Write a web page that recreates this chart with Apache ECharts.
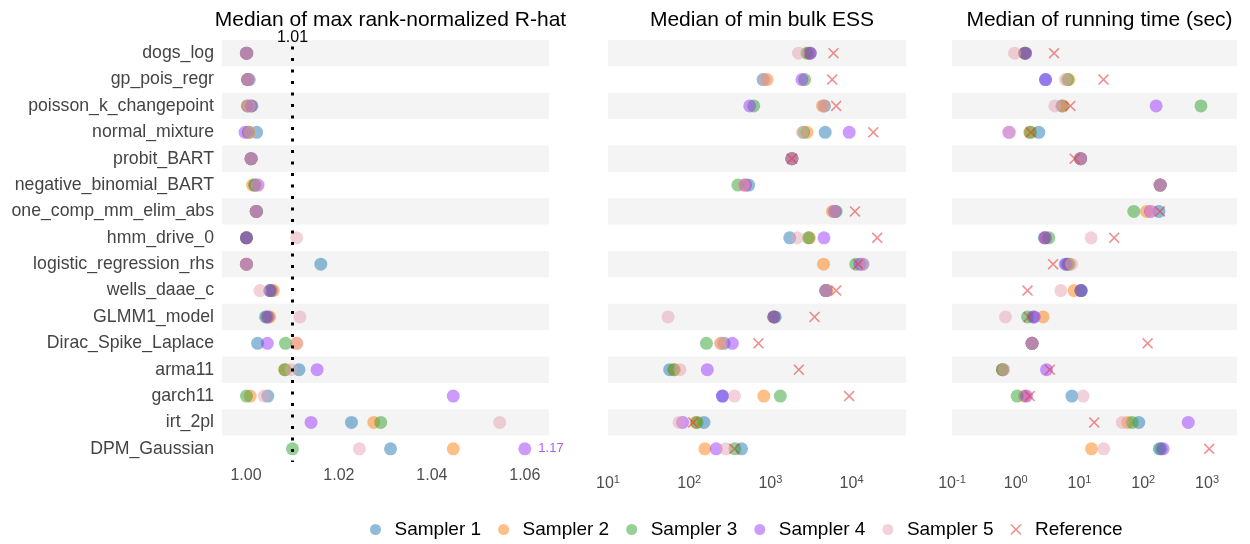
<!DOCTYPE html>
<html>
<head>
<meta charset="utf-8">
<script src="https://cdn.jsdelivr.net/npm/echarts@6/dist/echarts.min.js"></script>
<style>
  html, body { margin: 0; padding: 0; background: #fff; }
  #chart { width: 1250px; height: 544px; }
</style>
</head>
<body>
<div id="chart"></div>
<script>
const models = [
  "dogs_log", "gp_pois_regr", "poisson_k_changepoint", "normal_mixture",
  "probit_BART", "negative_binomial_BART", "one_comp_mm_elim_abs", "hmm_drive_0",
  "logistic_regression_rhs", "wells_daae_c", "GLMM1_model", "Dirac_Spike_Laplace",
  "arma11", "garch11", "irt_2pl", "DPM_Gaussian",
];
const samplerNames = ["Sampler 1", "Sampler 2", "Sampler 3", "Sampler 4", "Sampler 5"];
const panelTitles = [
  "Median of max rank-normalized R-hat",
  "Median of min bulk ESS",
  "Median of running time (sec)",
];
const rhatTicks = [1.0, 1.02, 1.04, 1.06];
const rhatThreshold = 1.01;

// median of max rank-normalized R-hat
const rhatSampler1 = [1.0002, 1.0007, 1.0003, 1.0023, 1.0011, 1.0019, 1.0022, 1.0001, 1.0161, 1.0055, 1.0048, 1.0025, 1.0114, 1.0047, 1.0227, 1.0311];
const rhatSampler2 = [1.0001, 1.0004, 1.0004, 1.0006, 1.0011, 1.0014, 1.0022, 1.0001, 1.0001, 1.0059, 1.0051, 1.0109, 1.0083, 1.0009, 1.0275, 1.0446];
const rhatSampler3 = [1.0001, 1.0003, 1.0013, 1.0005, 1.0011, 1.0019, 1.0023, 1.0001, 1.0001, 1.0051, 1.0042, 1.0085, 1.0084, 1.0001, 1.029, 1.01];
const rhatSampler4 = [1.0001, 1.0004, 1.0011, 0.9998, 1.0011, 1.0026, 1.0022, 1.0001, 1.0001, 1.0052, 1.0045, 1.0046, 1.0153, 1.0446, 1.014, 1.17];
const rhatSampler5 = [1.0001, 1.0005, 1.0007, 1.0008, 1.0011, 1.0024, 1.0022, 1.0109, 1.0001, 1.003, 1.0116, 1.0109, 1.0097, 1.0039, 1.0546, 1.0244];

// median of min bulk ESS
const essSampler1 = [3090, 813, 4640, 4730, 1840, 540, 6100, 1730, 13700, 4820, 1150, 269, 57.5, 257, 152, 441];
const essSampler2 = [2950, 910, 4380, 2820, 1840, 480, 5820, 3020, 4510, 5000, 1100, 244, 66, 830, 121, 156];
const essSampler3 = [2820, 2640, 624, 2570, 1840, 398, 6460, 2950, 11300, 4820, 1100, 163, 64.5, 1325, 125, 366];
const essSampler4 = [3090, 2450, 557, 9330, 1840, 494, 6250, 4570, 12700, 4820, 1100, 340, 167, 257, 83, 215];
const essSampler5 = [2220, 860, 4500, 2490, 1840, 470, 6100, 2140, 13900, 4820, 55, 250, 77, 361, 75, 282];
const essReference = [5990, 5770, 6460, 18500, 1840, null, 11000, 20700, 12000, 6460, 3500, 713, 2240, 9330, 112, 360];

// median of running time (sec)
const timeSampler1 = [1.42, 2.93, 5.3, 2.3, 10.4, 184, 176, 2.8, 6.3, 10.7, 1.87, 1.8, 0.62, 7.6, 85, 178];
const timeSampler2 = [1.38, 6.8, 5.5, 1.66, 10.4, 184, 113, 2.9, 6.9, 8.2, 2.68, 1.8, 0.62, 1.37, 57, 15.4];
const timeSampler3 = [1.38, 6.5, 802, 1.7, 10.4, 184, 71, 3.3, 6.7, 10.5, 1.53, 1.8, 0.62, 1.05, 67, 190];
const timeSampler4 = [1.42, 2.93, 159, 0.78, 10.4, 184, 130, 2.9, 6.0, 10.5, 1.95, 1.8, 3.03, 1.47, 507, 205];
const timeSampler5 = [0.96, 6.0, 4.1, 0.8, 10.4, 184, 134, 15.2, 7.5, 5.1, 0.69, 1.8, 0.65, 11.4, 47, 24];
const timeReference = [3.99, 23.8, 7.2, 1.72, 8.4, null, 182, 35, 3.85, 1.53, 1.6, 117, 3.42, 1.66, 17, 1080];

const colors = ["#1f77b4", "#ff7f0e", "#2ca02c", "#9a33ff", "#e7a1b0"];
const refColor = "#e23c3c";
const crossPath = "path://M1,0L5,4L9,0L10,1L6,5L10,9L9,10L5,6L1,10L0,9L4,5L0,1Z";
const font = "Liberation Sans, Arial, sans-serif";
const rhatMax = 1.0652;

const panels = [
  { left: 222, width: 327, samplers: [rhatSampler1, rhatSampler2, rhatSampler3, rhatSampler4, rhatSampler5], ref: null },
  { left: 608, width: 298, samplers: [essSampler1, essSampler2, essSampler3, essSampler4, essSampler5], ref: essReference },
  { left: 952, width: 285, samplers: [timeSampler1, timeSampler2, timeSampler3, timeSampler4, timeSampler5], ref: timeReference },
];

const fade = (hex, a) => {
  const n = parseInt(hex.slice(1), 16);
  return "rgba(" + (n >> 16) + "," + ((n >> 8) & 255) + "," + (n & 255) + "," + a + ")";
};

const powLabel = (v) => {
  const lg = Math.log10(v);
  const e = Math.round(lg);
  if (Math.abs(lg - e) > 1e-6) return "";
  return "10{sup|" + e + "}";
};

const labelStyle = {
  fontSize: 16,
  color: "#4d4d4d",
  fontFamily: font,
  rich: { sup: { fontSize: 11, color: "#4d4d4d", fontFamily: font, padding: [0, 0, 9, 0] } },
};

const grid = panels.map((p) => ({ left: p.left, width: p.width, top: 40, height: 422 }));

const yAxis = panels.map((p, i) => ({
  type: "category",
  gridIndex: i,
  data: models,
  inverse: true,
  axisLine: { show: false },
  axisTick: { show: false },
  axisLabel: { show: i === 0, fontSize: 17.7, color: "#444", fontFamily: font, margin: 8 },
  splitLine: { show: false },
  splitArea: { show: true, areaStyle: { color: ["#f4f4f4", "#ffffff"] } },
}));

const xAxis = [
  {
    type: "value",
    gridIndex: 0,
    min: 0.99484,
    max: rhatMax,
    axisLine: { show: false },
    axisTick: { show: false },
    splitLine: { show: false },
    axisLabel: { ...labelStyle, margin: 6, customValues: rhatTicks, formatter: (v) => v.toFixed(2) },
  },
  {
    type: "log",
    gridIndex: 1,
    min: 10,
    max: 46800,
    axisLine: { show: false },
    axisTick: { show: false },
    splitLine: { show: false },
    axisLabel: { ...labelStyle, margin: 12, formatter: powLabel },
  },
  {
    type: "log",
    gridIndex: 2,
    min: 0.1,
    max: 2950,
    axisLine: { show: false },
    axisTick: { show: false },
    splitLine: { show: false },
    axisLabel: { ...labelStyle, margin: 12, formatter: powLabel },
  },
];

const series = [];
panels.forEach((p, pi) => {
  p.samplers.forEach((vals, si) => {
    series.push({
      name: samplerNames[si],
      type: "scatter",
      xAxisIndex: pi,
      yAxisIndex: pi,
      symbol: "circle",
      symbolSize: 13,
      itemStyle: { color: fade(colors[si], 0.62) },
      // r-hat beyond the axis is pinned at 1.06 and labelled with its value
      data: vals.map((v, k) => {
        if (pi === 0 && v > 1.06) {
          return {
            value: [1.06, models[k]],
            label: { show: true, position: "right", distance: 7, formatter: String(v), color: colors[si], fontSize: 13, fontFamily: font },
          };
        }
        return [v, models[k]];
      }),
    });
  });
  if (p.ref) {
    series.push({
      name: "Reference",
      type: "scatter",
      xAxisIndex: pi,
      yAxisIndex: pi,
      symbol: crossPath,
      symbolSize: 11,
      itemStyle: { color: fade(refColor, 0.72) },
      data: p.ref.map((v, k) => (v == null ? null : [v, models[k]])).filter((d) => d),
    });
  }
});

// dotted threshold line at 1.01
series.push({
  type: "scatter",
  xAxisIndex: 0,
  yAxisIndex: 0,
  data: [],
  z: 10,
  markLine: {
    silent: true,
    symbol: "none",
    lineStyle: { color: "#000", type: [3, 8.5], dashOffset: 5, width: 3 },
    label: { show: true, position: "start", formatter: String(rhatThreshold), fontSize: 16, color: "#000", fontFamily: font, distance: -6 },
    data: [{ xAxis: rhatThreshold }],
  },
});

const chart = echarts.init(document.getElementById("chart"));
chart.setOption({
  animation: false,
  textStyle: { fontFamily: font },
  title: panels.map((p, i) => ({
    text: panelTitles[i],
    left: p.left + p.width / 2,
    top: 5,
    textAlign: "center",
    textStyle: { fontSize: 21, fontWeight: "normal", color: "#000", fontFamily: font },
  })),
  legend: {
    left: 365,
    top: 515,
    itemWidth: 28,
    itemHeight: 11,
    itemGap: 17,
    textStyle: { fontSize: 19, color: "#000", fontFamily: font },
    data: [
      ...samplerNames.map((n) => ({ name: n, icon: "circle" })),
      { name: "Reference", icon: crossPath },
    ],
  },
  grid,
  xAxis,
  yAxis,
  series,
});
</script>
</body>
</html>
